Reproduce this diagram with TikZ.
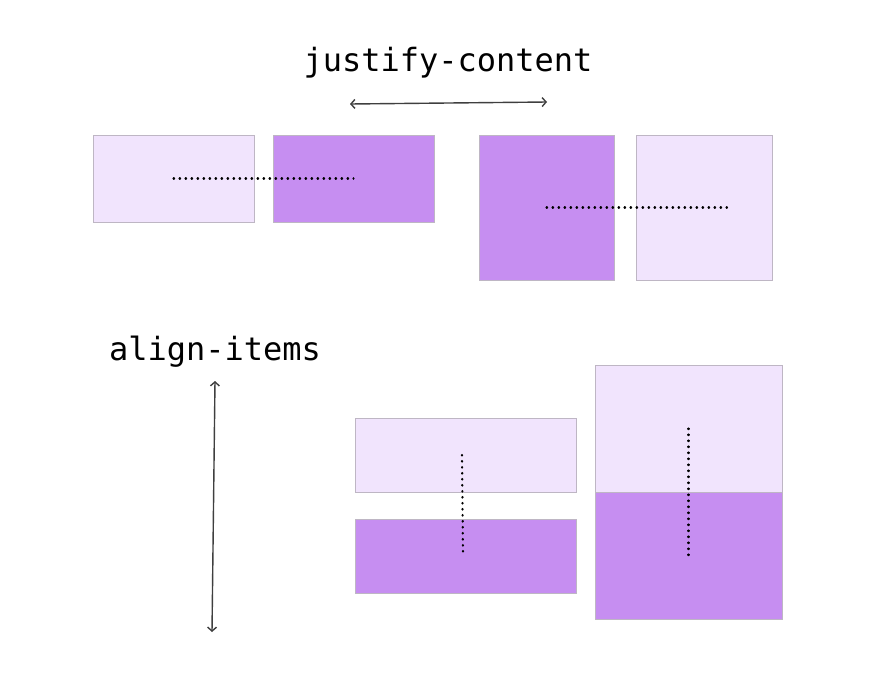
\documentclass[tikz,border=0pt]{standalone}
\usepackage{fontspec}
\usepackage{xcolor}
\usepackage{tikz}
\usetikzlibrary{arrows.meta, positioning, calc}

\newfontfamily\codefont{DejaVu Sans Mono}
\definecolor{itemlight}{HTML}{F1E4FD}
\definecolor{itemdark}{HTML}{C68EF1}
\definecolor{itemedge}{HTML}{BEB6C4}
\definecolor{axisgray}{HTML}{3F3F3F}

\tikzset{
  item/.style={draw=itemedge, line width=0.9pt, inner sep=0pt, outer sep=0pt},
  lightitem/.style={item, fill=itemlight},
  darkitem/.style={item, fill=itemdark},
  axis/.style={draw=axisgray, line width=1.4pt, {Straight Barb[length=4pt,width=9pt]}-{Straight Barb[length=4pt,width=9pt]}},
  centerline/.style={line width=2.2pt, line cap=round, dash pattern=on 0.6pt off 5.4pt},
  label/.style={font=\codefont\fontsize{32}{38}\selectfont}
}

\begin{document}
\begin{tikzpicture}[x=1pt, y=-1pt]
\useasboundingbox (0,0) rectangle (881,675);

% justify-content
\node[label] (jc) at (448,63) {justify-content};
\coordinate (jcl) at (350,104);
\coordinate (jcr) at (547,102);
\draw[axis] (jcl) -- (jcr);

% row with short items
\node[lightitem, minimum width=161pt, minimum height=87pt] (a1) at (173.5,178.5) {};
\node[darkitem, minimum width=161pt, minimum height=87pt] (a2) at (353.5,178.5) {};
\draw[centerline] (a1.center) -- (a2.center);

% row with tall items
\node[darkitem, minimum width=135pt, minimum height=145pt] (b1) at (546.5,207.5) {};
\node[lightitem, minimum width=136pt, minimum height=145pt] (b2) at (704,207.5) {};
\draw[centerline] (b1.center) -- ($(b2.center)+(23,0)$);

% align-items
\node[label] (ai) at (215,352) {align-items};
\coordinate (ait) at (215,381);
\coordinate (aib) at (212,632);
\draw[axis] (ait) -- (aib);

% column with wide items
\node[lightitem, minimum width=221pt, minimum height=74pt] (c1) at (465.5,455) {};
\node[darkitem, minimum width=221pt, minimum height=74pt] (c2) at (465.5,556) {};
\draw[centerline] ($(c1.center)+(-3.5,0)$) -- ($(c2.center)+(-2.5,0)$);

% column with tall items
\node[lightitem, minimum width=187pt, minimum height=127pt] (d1) at (688.5,428.5) {};
\node[darkitem, minimum width=187pt, minimum height=127pt] (d2) at (688.5,555.5) {};
\draw[centerline] (d1.center) -- (d2.center);
\end{tikzpicture}
\end{document}
